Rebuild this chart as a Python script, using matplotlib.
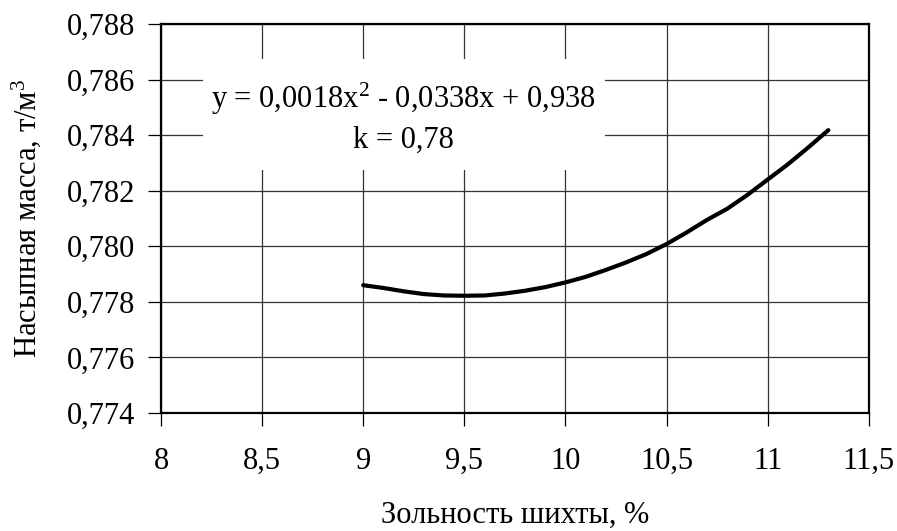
import matplotlib
matplotlib.use("Agg")
from matplotlib import pyplot as plt
from matplotlib.patches import Rectangle
from matplotlib.ticker import MultipleLocator, FuncFormatter

plt.rcParams['font.family'] = ['Liberation Serif', 'DejaVu Serif']
plt.rcParams['mathtext.fontset'] = 'custom'
plt.rcParams['mathtext.rm'] = 'Liberation Serif'
plt.rcParams['mathtext.it'] = 'Liberation Serif:italic'

# ash content of the charge, %
ash = [9.0, 9.1, 9.2, 9.3, 9.4, 9.5, 9.6, 9.7, 9.8, 9.9, 10.0, 10.1,
       10.2, 10.3, 10.4, 10.5, 10.6, 10.7, 10.8, 10.9, 11.0, 11.1, 11.2, 11.3]
# bulk density, t/m3
density = [0.77860, 0.77850, 0.77838, 0.77828, 0.77823, 0.77822, 0.77823,
           0.77830, 0.77840, 0.77853, 0.77870, 0.77890, 0.77915, 0.77942,
           0.77972, 0.78008, 0.78050, 0.78095, 0.78135, 0.78185, 0.78240,
           0.78295, 0.78355, 0.78418]

equation = 'y = 0,0018x$^2$ - 0,0338x + 0,938'
coef = 'k = 0,78'


def comma(v, pos, digits):
    s = ('%.' + str(digits) + 'f') % v
    if digits == 1 and s.endswith('.0'):
        s = s[:-2]
    return s.replace('.', ',')


fig = plt.figure(figsize=(8.97, 5.31), dpi=100)
ax = fig.add_axes([0.1795, 0.2222, 0.789, 0.7326])

ax.plot(ash, density, color='black', lw=3, solid_capstyle='round', zorder=3)

ax.set_xlim(8, 11.5)
ax.set_ylim(0.774, 0.788)
ax.xaxis.set_major_locator(MultipleLocator(0.5))
ax.yaxis.set_major_locator(MultipleLocator(0.002))
ax.xaxis.set_major_formatter(FuncFormatter(lambda v, p: comma(v, p, 1)))
ax.yaxis.set_major_formatter(FuncFormatter(lambda v, p: comma(v, p, 3)))

ax.grid(True, color='#333333', lw=0.9)
ax.set_axisbelow(True)
for sp in ax.spines.values():
    sp.set_linewidth(1.6)
    sp.set_color('black')

ax.tick_params(axis='x', direction='out', length=9.5, width=0.9, pad=15, labelsize=22)
ax.tick_params(axis='y', direction='out', length=9.5, width=0.9, pad=9, labelsize=22)

# axis titles
ax.text(0.5, -0.283, 'Зольность шихты, %', transform=ax.transAxes,
        ha='center', va='baseline', fontsize=22)
ax.text(-0.19, 0.5, 'Насыпная масса, т/м$^3$', transform=ax.transAxes,
        ha='center', va='center', rotation=90, fontsize=22)

# trendline label on a white box
ax.add_patch(Rectangle((0.059, 0.625), 0.568, 0.285, transform=ax.transAxes,
                       facecolor='white', edgecolor='none', zorder=1))
ax.text(0.343, 0.784, equation, transform=ax.transAxes, ha='center', va='baseline',
        fontsize=22, zorder=2)
ax.text(0.343, 0.681, coef, transform=ax.transAxes, ha='center', va='baseline',
        fontsize=22, zorder=2)

fig.savefig('out.png', dpi=100)
